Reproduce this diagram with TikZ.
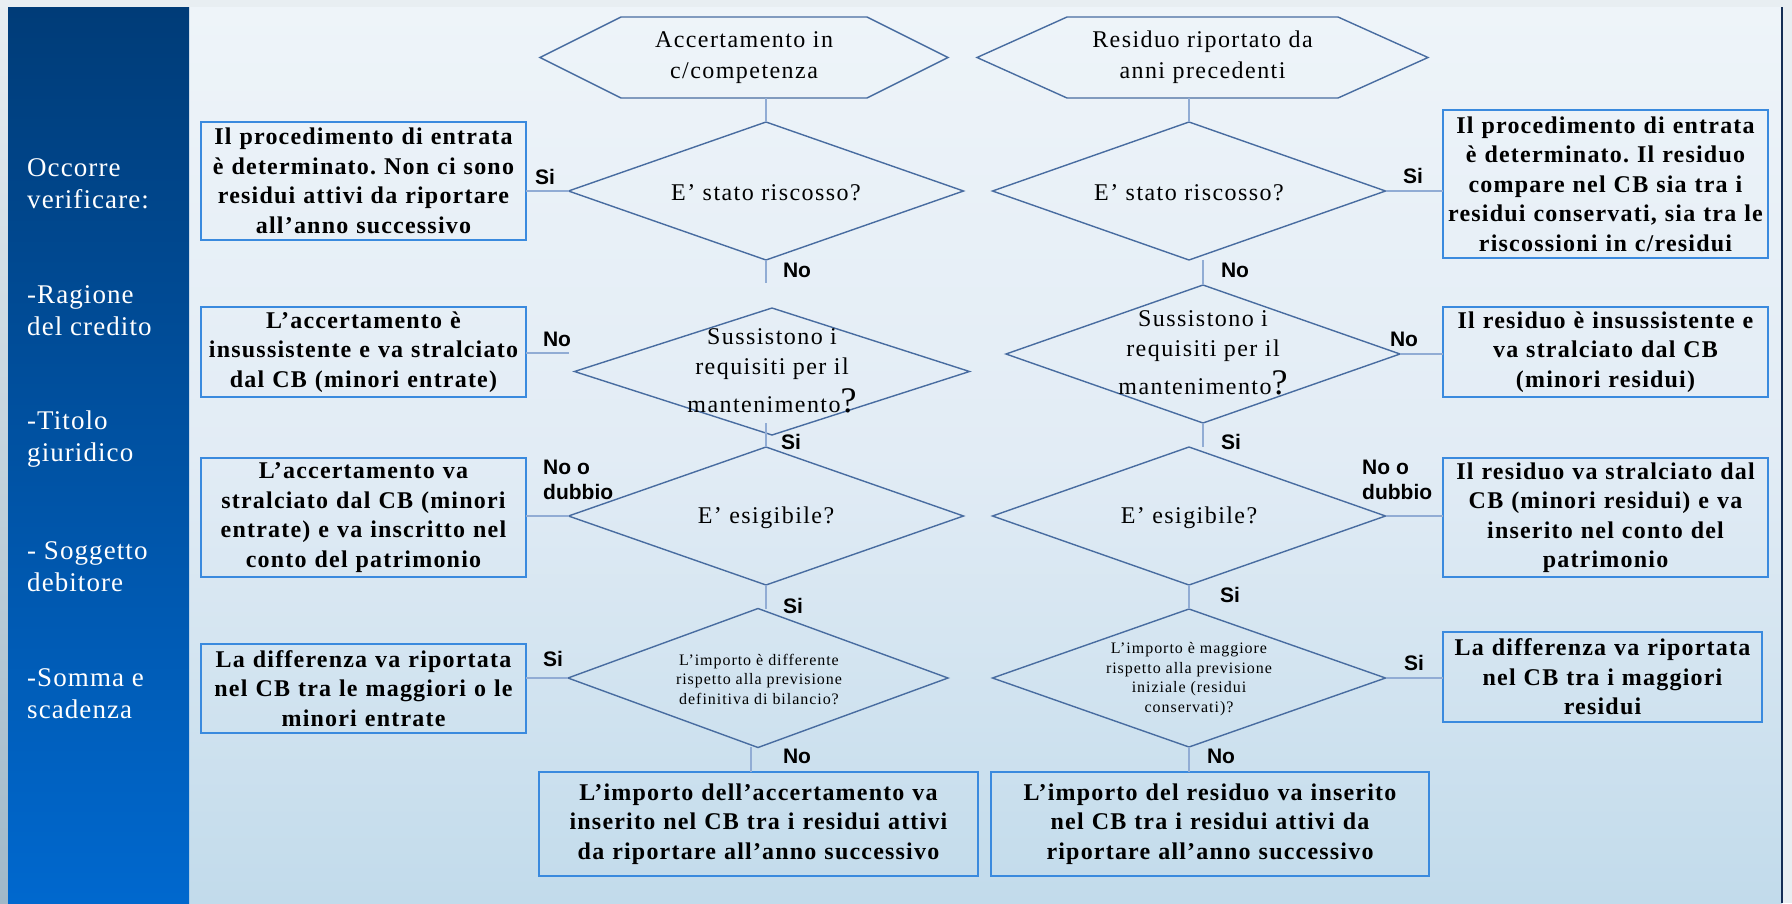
\documentclass[tikz,border=0pt]{standalone}
\usepackage{fontspec}
\setmainfont{Liberation Serif}
\newfontfamily\boxfont[LetterSpace=5]{Liberation Serif}
\newfontfamily\diafont[LetterSpace=6]{Liberation Serif}
\newfontfamily\sidefont[LetterSpace=4]{Liberation Serif}
\newfontfamily\lblfont{Liberation Sans}
\usetikzlibrary{shapes.geometric}
\definecolor{navytop}{RGB}{0,60,120}
\definecolor{navybot}{RGB}{0,104,206}
\definecolor{bgtop}{RGB}{238,244,249}
\definecolor{bgmid}{RGB}{226,236,245}
\definecolor{bgbot}{RGB}{194,219,235}
\definecolor{margtop}{RGB}{232,238,242}
\definecolor{margbot}{RGB}{160,184,200}
\definecolor{diacol}{RGB}{72,108,160}
\definecolor{boxcol}{RGB}{58,138,222}
\definecolor{concol}{RGB}{145,172,212}
\definecolor{edgecol}{RGB}{20,45,85}
\frenchspacing
\begin{document}
\begin{tikzpicture}[x=1pt,y=-1pt,
  dia/.style={diamond, draw=diacol, line width=1.4pt, inner sep=0pt, outer sep=0pt},
  hexbox/.style={rectangle, inner sep=0pt, outer sep=0pt, minimum height=81pt, align=center, font=\diafont\fontsize{24}{31}\selectfont},
  hexline/.style={draw=diacol, line width=1.4pt},
  dtext/.style={inner sep=0pt, align=center, font=\diafont\fontsize{24}{30}\selectfont},
  dsmall/.style={inner sep=0pt, align=center, font=\diafont\fontsize{16}{19.5}\selectfont},
  box/.style={rectangle, draw=boxcol, line width=1.8pt, inner sep=0pt, outer sep=0pt, align=center, font=\boxfont\bfseries\fontsize{24}{29.5}\selectfont\frenchspacing},
  conn/.style={draw=concol, line width=1.4pt},
  lbl/.style={inner sep=0pt, font=\lblfont\bfseries\fontsize{21}{25}\selectfont},
  side/.style={inner sep=0pt, anchor=west, align=left, text=white, font=\sidefont\fontsize{27}{32}\selectfont}]
\useasboundingbox (0,0) rectangle (1792,903);
% backgrounds
\fill[margtop] (0,0) rectangle (1792,903);
\shade[top color=margtop, bottom color=margbot] (0,0) rectangle (8,903);
\shade[top color=bgtop, bottom color=bgbot, middle color=bgmid] (8,7) rectangle (1782,903);
\shade[top color=navytop, bottom color=navybot] (8,7) rectangle (189,903);
\draw[edgecol, line width=2.5pt] (1782,7) -- (1782,903);
% side panel
\node[side] (s1) at (27,184) {Occorre\\verificare:};
\node[side] (s2) at (27,311) {-Ragione\\del credito};
\node[side] (s3) at (27,439) {-Titolo\\giuridico};
\node[side] (s4) at (27,567) {- Soggetto\\debitore};
\node[side] (s5) at (27,694) {-Somma e\\scadenza};
% hexagons
\node[hexbox, minimum width=246pt] (H1) at (744,57.5) {Accertamento in\\c/competenza};
\node[hexbox, minimum width=271pt] (H2) at (1202.5,57.5) {Residuo riportato da\\anni precedenti};
\draw[hexline] (H1.north west) -- (H1.north east) -- ([xshift=81pt]H1.east) -- (H1.south east) -- (H1.south west) -- ([xshift=-81pt]H1.west) -- cycle;
\draw[hexline] (H2.north west) -- (H2.north east) -- ([xshift=90pt]H2.east) -- (H2.south east) -- (H2.south west) -- ([xshift=-90pt]H2.west) -- cycle;
% left diamonds
\node[dia, minimum width=395pt, minimum height=138pt] (D1) at (766,191) {};
\node[dtext] (D1t) at (766,193) {E’ stato riscosso?};
\node[dia, minimum width=395pt, minimum height=127pt] (D2) at (772,371.5) {};
\node[dtext] (D2t) at (772,371) {Sussistono i\\requisiti per il\\[8pt]mantenimento{\fontsize{36}{36}\selectfont ?}};
\node[dia, minimum width=395pt, minimum height=138pt] (D3) at (766,516) {};
\node[dtext] (D3t) at (766,518) {E’ esigibile?};
\node[dia, minimum width=380pt, minimum height=139pt] (D4) at (758,678) {};
\node[dsmall] (D4t) at (759,679) {L’importo è differente\\rispetto alla previsione\\definitiva di bilancio?};
% right diamonds
\node[dia, minimum width=393pt, minimum height=138pt] (DR1) at (1189,191) {};
\node[dtext] (DR1t) at (1189,193) {E’ stato riscosso?};
\node[dia, minimum width=394pt, minimum height=138pt] (DR2) at (1203,354) {};
\node[dtext] (DR2t) at (1203,353) {Sussistono i\\requisiti per il\\[8pt]mantenimento{\fontsize{36}{36}\selectfont ?}};
\node[dia, minimum width=393pt, minimum height=138pt] (DR3) at (1189,516) {};
\node[dtext] (DR3t) at (1189,518) {E’ esigibile?};
\node[dia, minimum width=393pt, minimum height=138pt] (DR4) at (1189,678) {};
\node[dsmall] (DR4t) at (1189,679) {L’importo è maggiore\\rispetto alla previsione\\iniziale (residui\\conservati)?};
% left boxes
\node[box, text width=325pt, minimum height=118pt] (L1) at (363.5,181) {Il procedimento di entrata\\è determinato. Non ci sono\\residui attivi da riportare\\all’anno successivo};
\node[box, text width=325pt, minimum height=90pt] (L2) at (363.5,352) {L’accertamento è\\insussistente e va stralciato\\dal CB (minori entrate)};
\node[box, text width=325pt, minimum height=119pt] (L3) at (363.5,517.5) {L’accertamento va\\stralciato dal CB (minori\\entrate) e va inscritto nel\\conto del patrimonio};
\node[box, text width=325pt, minimum height=89pt] (L4) at (363.5,688.5) {La differenza va riportata\\nel CB tra le maggiori o le\\minori entrate};
% right boxes
\node[box, text width=325pt, minimum height=148pt] (R1) at (1605.5,184) {Il procedimento di entrata\\è determinato. Il residuo\\compare nel CB sia tra i\\residui conservati, sia tra le\\riscossioni in c/residui};
\node[box, text width=325pt, minimum height=90pt] (R2) at (1605.5,352) {Il residuo è insussistente e\\va stralciato dal CB\\(minori residui)};
\node[box, text width=325pt, minimum height=119pt] (R3) at (1605.5,517.5) {Il residuo va stralciato dal\\CB (minori residui) e va\\inserito nel conto del\\patrimonio};
\node[box, text width=319pt, minimum height=90pt] (R4) at (1602.5,677) {La differenza va riportata\\nel CB tra i maggiori\\residui};
% bottom boxes
\node[box, text width=439pt, minimum height=104pt] (B1) at (758.5,824) {L’importo dell’accertamento va\\inserito nel CB tra i residui attivi\\da riportare all’anno successivo};
\node[box, text width=438pt, minimum height=104pt] (B2) at (1210,824) {L’importo del residuo va inserito\\nel CB tra i residui attivi da\\riportare all’anno successivo};
% free ends
\coordinate (g1) at (766,283);
\coordinate (g2) at (766,423);
\coordinate (g4) at (751,747);
\coordinate (g5) at (569,353);
% left connectors
\draw[conn] (D1.north |- H1.south) -- (D1.north);
\draw[conn] (D1.south) -- (g1);
\draw[conn] (g2) -- (D3.north);
\draw[conn] (D3.south) -- (D3.south |- D4.north);
\draw[conn] (g4) -- (g4 |- B1.north);
\draw[conn] (D1.west -| L1.east) -- (D1.west);
\draw[conn] (g5 -| L2.east) -- (g5);
\draw[conn] (D3.west -| L3.east) -- (D3.west);
\draw[conn] (D4.west -| L4.east) -- (D4.west);
% right connectors
\draw[conn] (DR1.north |- H2.south) -- (DR1.north);
\draw[conn] (DR2.north |- DR1.south) -- (DR2.north);
\draw[conn] (DR2.south) -- (DR2.south |- DR3.north);
\draw[conn] (DR3.south) -- (DR4.north);
\draw[conn] (DR4.south) -- (DR4.south |- B2.north);
\draw[conn] (DR1.east) -- (DR1.east -| R1.west);
\draw[conn] (DR2.east) -- (DR2.east -| R2.west);
\draw[conn] (DR3.east) -- (DR3.east -| R3.west);
\draw[conn] (DR4.east) -- (DR4.east -| R4.west);
% labels
\node[lbl] (a1) at (545,177) {Si};
\node[lbl] (a2) at (797,270) {No};
\node[lbl] (a3) at (557,339) {No};
\node[lbl] (a4) at (791,442) {Si};
\node[lbl, anchor=west, align=left] (a5) at (543,479.5) {No o\\dubbio};
\node[lbl] (a6) at (793,606) {Si};
\node[lbl] (a7) at (553,659) {Si};
\node[lbl] (a8) at (797,756) {No};
\node[lbl] (b1) at (1413,176) {Si};
\node[lbl] (b2) at (1235,270) {No};
\node[lbl] (b3) at (1404,339) {No};
\node[lbl] (b4) at (1231,442) {Si};
\node[lbl, anchor=west, align=left] (b5) at (1362,479.5) {No o\\dubbio};
\node[lbl] (b6) at (1230,595) {Si};
\node[lbl] (b7) at (1414,663) {Si};
\node[lbl] (b8) at (1221,756) {No};
\end{tikzpicture}
\end{document}
